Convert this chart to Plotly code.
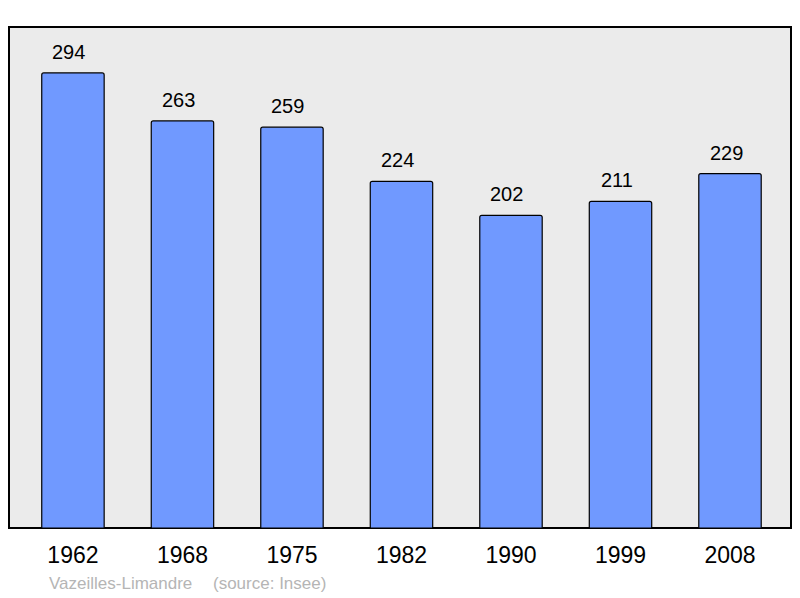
import plotly.graph_objects as go

years = ["1962", "1968", "1975", "1982", "1990", "1999", "2008"]
population = [294, 263, 259, 224, 202, 211, 229]
commune = "Vazeilles-Limandre"
source = "(source: Insee)"

fig = go.Figure()

fig.add_trace(go.Bar(
    x=years,
    y=population,
    width=0.57,
    marker=dict(color="#7099ff", line=dict(color="#000000", width=1.2), cornerradius=2),
    hoverinfo="x+y",
))

# étiquettes de valeurs au-dessus des barres (x = index de catégorie)
for i, val in enumerate(population):
    fig.add_annotation(
        x=i, y=val, text=str(val), showarrow=False,
        yanchor="bottom", yshift=8, xshift=-4,
        font=dict(family="Liberation Sans, Arial", size=20, color="#000000"),
    )

# cadre de la zone de tracé
fig.add_shape(
    type="rect", xref="paper", yref="paper", x0=0, y0=0, x1=1, y1=1,
    fillcolor="#ebebeb", line=dict(color="#000000", width=2), layer="below",
)

fig.add_annotation(
    xref="paper", yref="paper", x=0.0486, y=-0.11, xanchor="left", yanchor="middle",
    text=commune, showarrow=False,
    font=dict(family="Liberation Sans, Arial", size=17, color="#b5b5b5"),
)
fig.add_annotation(
    xref="paper", yref="paper", x=0.258, y=-0.11, xanchor="left", yanchor="middle",
    text=source, showarrow=False,
    font=dict(family="Liberation Sans, Arial", size=17, color="#b5b5b5"),
)

# la page ajoute une marge de 8 px : figure réduite d'autant
fig.update_layout(
    width=792,
    height=590,
    margin=dict(l=1, r=9, t=19, b=70),
    paper_bgcolor="#ffffff",
    plot_bgcolor="rgba(0,0,0,0)",
    showlegend=False,
    xaxis=dict(
        type="category", range=[-0.584, 6.557],
        showgrid=False, zeroline=False, showline=False, ticks="",
        tickfont=dict(family="Liberation Sans, Arial", size=23, color="#000000"),
        ticklabelstandoff=11,
    ),
    yaxis=dict(range=[0, 323.7], visible=False, showgrid=False),
)

fig.write_html("out.html")
